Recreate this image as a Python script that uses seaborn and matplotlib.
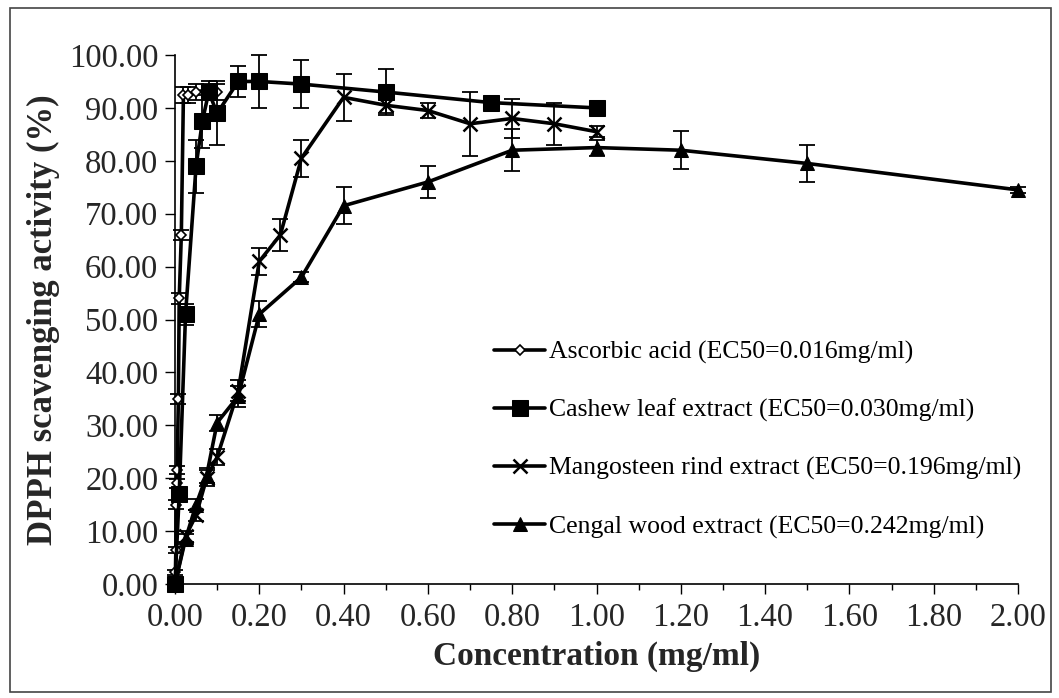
import matplotlib
matplotlib.use("Agg")
import matplotlib.pyplot as plt
import seaborn as sns
import pandas as pd
from matplotlib.patches import Rectangle

# ---- data ----
asc_x = [0.0, 0.001, 0.002, 0.003, 0.004, 0.005, 0.008, 0.01, 0.015, 0.02, 0.03, 0.05, 0.08, 0.1]
asc_y = [0.0, 2.2, 6.4, 15.0, 19.0, 21.5, 35.0, 54.0, 66.0, 92.5, 92.5, 93.0, 93.5, 93.0]
asc_e = [0.3, 0.5, 0.5, 0.8, 0.8, 0.8, 1.0, 1.0, 1.0, 1.5, 1.5, 1.5, 1.5, 1.5]

cas_x = [0.0, 0.01, 0.025, 0.05, 0.065, 0.08, 0.1, 0.15, 0.2, 0.3, 0.5, 0.75, 1.0]
cas_y = [0.0, 17.0, 51.0, 79.0, 87.5, 93.0, 89.0, 95.0, 95.0, 94.5, 93.0, 91.0, 90.0]
cas_e = [0.5, 1.0, 2.0, 5.0, 5.0, 1.5, 6.0, 3.0, 5.0, 4.5, 4.3, 0.5, 0.5]

man_x = [0.0, 0.025, 0.05, 0.075, 0.1, 0.15, 0.2, 0.25, 0.3, 0.4, 0.5, 0.6, 0.7, 0.8, 0.9, 1.0]
man_y = [0.0, 9.0, 13.0, 20.0, 24.0, 36.5, 61.0, 66.0, 80.5, 92.0, 90.5, 89.5, 87.0, 88.0, 87.0, 85.5]
man_e = [0.5, 1.0, 1.0, 1.5, 1.5, 2.0, 2.5, 3.0, 3.5, 4.5, 1.5, 1.5, 6.0, 3.7, 4.0, 1.0]

cen_x = [0.0, 0.025, 0.05, 0.075, 0.1, 0.15, 0.2, 0.3, 0.4, 0.6, 0.8, 1.0, 1.2, 1.5, 2.0]
cen_y = [0.0, 8.5, 15.0, 20.5, 30.5, 35.5, 51.0, 58.0, 71.5, 76.0, 82.0, 82.5, 82.0, 79.5, 74.5]
cen_e = [0.5, 1.0, 1.0, 1.5, 1.5, 2.0, 2.5, 1.0, 3.5, 3.0, 4.0, 1.5, 3.6, 3.5, 0.5]

labels = ["Ascorbic acid (EC50=0.016mg/ml)",
          "Cashew leaf extract (EC50=0.030mg/ml)",
          "Mangosteen rind extract (EC50=0.196mg/ml)",
          "Cengal wood extract (EC50=0.242mg/ml)"]

x_ticks = [0.0, 0.2, 0.4, 0.6, 0.8, 1.0, 1.2, 1.4, 1.6, 1.8, 2.0]
y_ticks = [0, 10, 20, 30, 40, 50, 60, 70, 80, 90, 100]

series = [(asc_x, asc_y, asc_e), (cas_x, cas_y, cas_e), (man_x, man_y, man_e), (cen_x, cen_y, cen_e)]
styles = [
    dict(marker="D", markersize=5, markerfacecolor="white", markeredgecolor="black", markeredgewidth=1.2),
    dict(marker="s", markersize=11, markerfacecolor="black", markeredgecolor="black"),
    dict(marker="x", markersize=10, markeredgecolor="black", markeredgewidth=1.8),
    dict(marker="^", markersize=10, markerfacecolor="black", markeredgecolor="black"),
]

sns.set_theme(style="white")
plt.rcParams["font.family"] = ["Liberation Serif", "DejaVu Serif"]

fig = plt.figure(figsize=(10.59, 6.98), dpi=100)
ax = fig.add_axes([175/1059, (698-584)/698, (1018-175)/1059, (584-55)/698])

rows = []
for lab, (xs, ys, es) in zip(labels, series):
    for a, b in zip(xs, ys):
        rows.append({"conc": a, "act": b, "series": lab})
df = pd.DataFrame(rows)

for lab, (xs, ys, es), st in zip(labels, series, styles):
    ax.errorbar(xs, ys, yerr=es, fmt="none", ecolor="black", elinewidth=1.3,
                capsize=6, capthick=1.3, clip_on=False, zorder=2)
    sns.lineplot(data=df[df["series"] == lab], x="conc", y="act", ax=ax,
                 color="black", linewidth=2.6, label=lab, clip_on=False,
                 zorder=3, sort=False, **st)

ax.set_xlim(0, 2.0)
ax.set_ylim(0, 100)
ax.set_xticks(x_ticks)
ax.set_xticklabels([f"{v:.2f}" for v in x_ticks])
ax.set_xticks([v/10 for v in range(1, 20, 2)], minor=True)
ax.set_yticks(y_ticks)
ax.set_yticklabels([f"{v:.2f}" for v in y_ticks])
ax.tick_params(axis="both", which="major", direction="out", length=7, width=1,
               color="black", labelsize=23.5, pad=5, bottom=True, left=True)
ax.tick_params(axis="x", which="major", pad=6)
ax.tick_params(axis="x", which="minor", direction="out", length=4, width=1,
               color="black", bottom=True)
for s in ["top", "right"]:
    ax.spines[s].set_visible(False)
for s in ["left", "bottom"]:
    ax.spines[s].set_color("black")
    ax.spines[s].set_linewidth(1.2)

ax.set_xlabel("Concentration (mg/ml)", fontsize=24, fontweight="bold", labelpad=6)
ax.set_ylabel("DPPH scavenging activity (%)", fontsize=25, fontweight="bold", labelpad=6)

leg = ax.legend(loc="upper left", bbox_to_anchor=((481-175)/843, (584-328)/529),
                frameon=False, borderpad=0, handlelength=2.0, handletextpad=0.15,
                labelspacing=1.35, prop={"family": "Liberation Serif", "size": 18.5})
for t in leg.get_texts():
    t.set_color("black")

fig.patches.append(Rectangle((10/1059, 1-692/698), 1041/1059, 684/698,
                             transform=fig.transFigure, fill=False,
                             edgecolor="#444444", linewidth=1.2))

fig.savefig("out.png", dpi=100, facecolor="white")
